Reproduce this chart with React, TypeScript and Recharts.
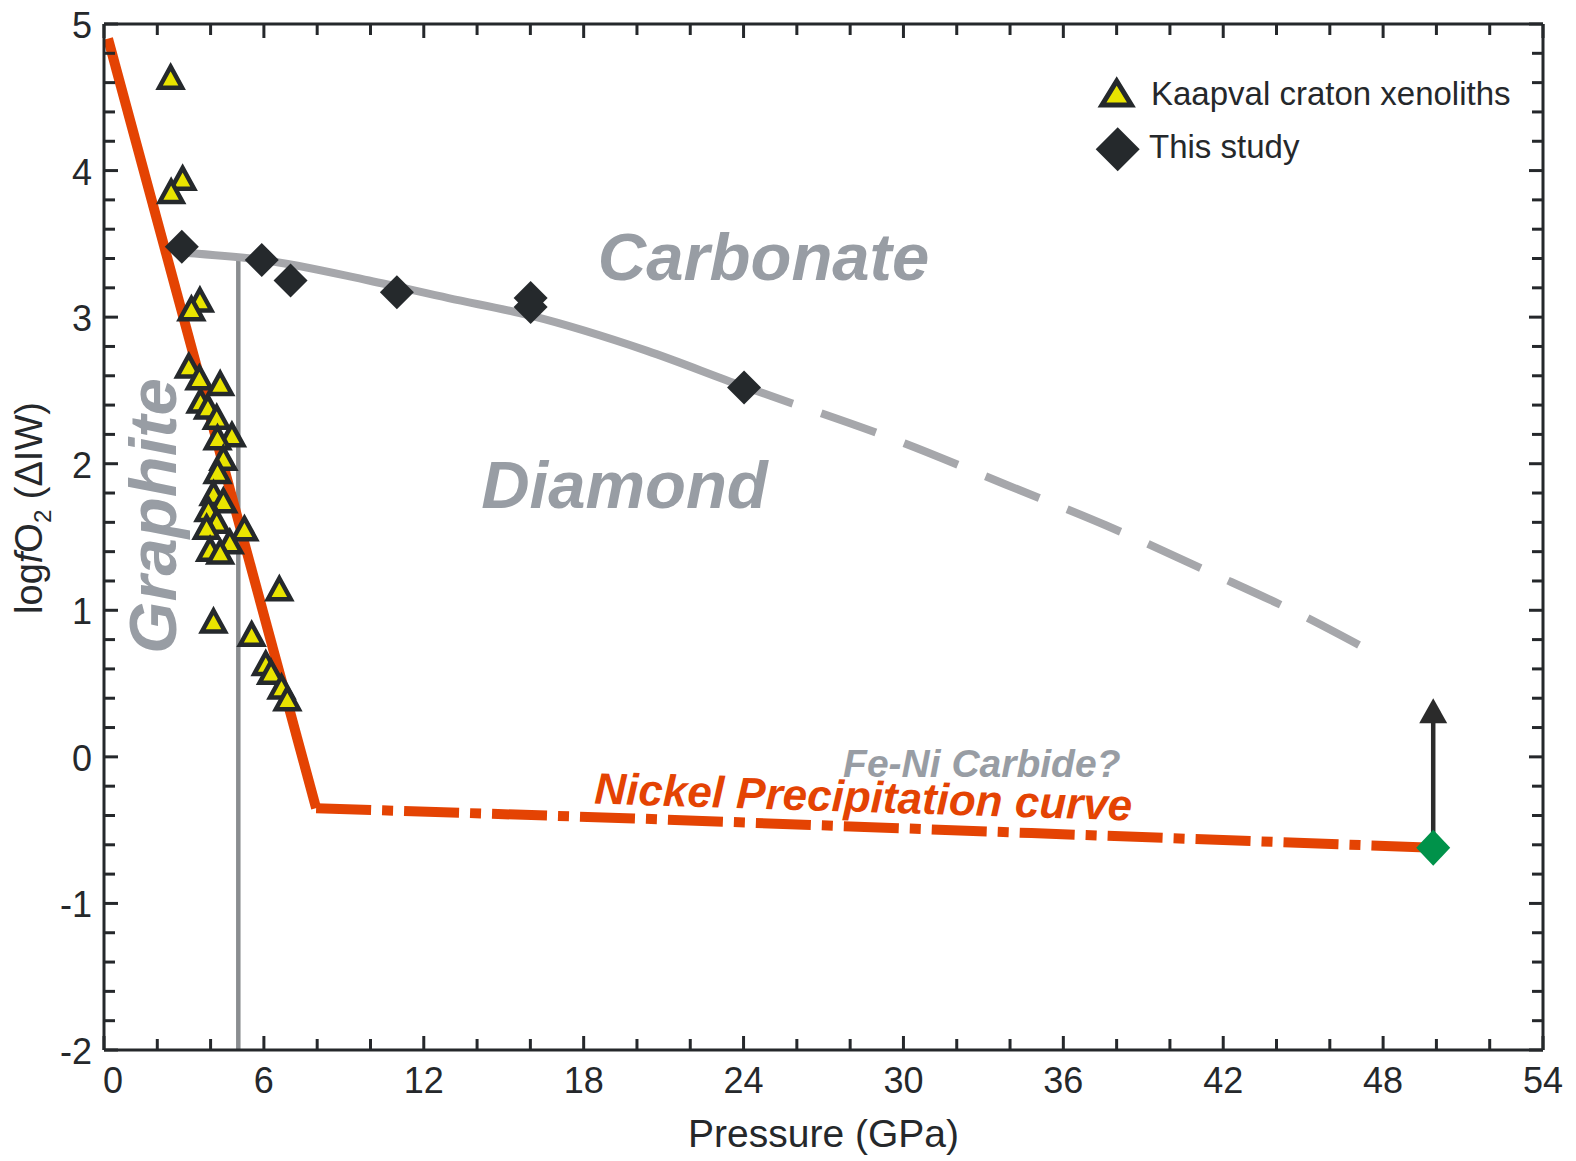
import React from 'react';
import { ComposedChart, XAxis, YAxis, Line, Scatter, ReferenceDot, Legend } from 'recharts';

const FONT = '"Liberation Sans", Arial, Helvetica, sans-serif';
const AXIS_COLOR = '#25282b';
const RED = '#e44303';
const GRAY_CURVE = '#a6a7ab';
const GRAY_VERT = '#8a8d90';
const GRAY_TEXT = '#989da4';
const YELLOW = '#e9e400';
const DARK = '#25292c';
const GREEN = '#00924a';

// Axis ticks
const xTicks = [0, 2, 4, 6, 8, 10, 12, 14, 16, 18, 20, 22, 24, 26, 28, 30, 32, 34, 36, 38, 40, 42, 44, 46, 48, 50, 52, 54];
const xTickLabels = [0, 6, 12, 18, 24, 30, 36, 42, 48, 54];
const yTicks = [
  -2, -1.8, -1.6, -1.4, -1.2, -1, -0.8, -0.6, -0.4, -0.2, 0, 0.2, 0.4, 0.6, 0.8, 1, 1.2, 1.4, 1.6, 1.8,
  2, 2.2, 2.4, 2.6, 2.8, 3, 3.2, 3.4, 3.6, 3.8, 4, 4.2, 4.4, 4.6, 4.8, 5,
];
const yTickLabels = [-2, -1, 0, 1, 2, 3, 4, 5];

// Kaapval craton xenoliths (pressure GPa, logfO2 ΔIW)
const kaapvalXenoliths = [
  { x: 2.5, y: 4.62 },
  { x: 2.95, y: 3.93 },
  { x: 2.52, y: 3.84 },
  { x: 3.6, y: 3.1 },
  { x: 3.28, y: 3.04 },
  { x: 3.18, y: 2.65 },
  { x: 3.58, y: 2.57 },
  { x: 4.36, y: 2.53 },
  { x: 3.62, y: 2.41 },
  { x: 3.9, y: 2.37 },
  { x: 4.23, y: 2.3 },
  { x: 4.8, y: 2.18 },
  { x: 4.26, y: 2.16 },
  { x: 4.48, y: 2.02 },
  { x: 4.26, y: 1.93 },
  { x: 4.11, y: 1.78 },
  { x: 4.48, y: 1.73 },
  { x: 3.92, y: 1.67 },
  { x: 4.23, y: 1.59 },
  { x: 3.85, y: 1.55 },
  { x: 5.27, y: 1.54 },
  { x: 4.72, y: 1.45 },
  { x: 3.98, y: 1.4 },
  { x: 4.36, y: 1.38 },
  { x: 6.58, y: 1.13 },
  { x: 4.11, y: 0.91 },
  { x: 5.54, y: 0.82 },
  { x: 6.07, y: 0.62 },
  { x: 6.27, y: 0.56 },
  { x: 6.66, y: 0.46 },
  { x: 6.88, y: 0.38 },
];

// This study
const thisStudy = [
  { x: 2.92, y: 3.48 },
  { x: 5.92, y: 3.39 },
  { x: 7.0, y: 3.25 },
  { x: 10.99, y: 3.17 },
  { x: 16.01, y: 3.13 },
  { x: 16.01, y: 3.07 },
  { x: 24.02, y: 2.52 },
];

// Carbonate / Diamond boundary
const carbonateSolid = [
  { x: 2.98, y: 3.44 },
  { x: 5.97, y: 3.39 },
  { x: 9.94, y: 3.25 },
  { x: 12.93, y: 3.13 },
  { x: 16.01, y: 3.01 },
  { x: 20.38, y: 2.77 },
  { x: 23.96, y: 2.53 },
  { x: 25.85, y: 2.41 },
];
const carbonateDashed = [
  { x: 25.85, y: 2.41 },
  { x: 30.03, y: 2.14 },
  { x: 33.81, y: 1.86 },
  { x: 37.59, y: 1.58 },
  { x: 41.37, y: 1.27 },
  { x: 45.14, y: 0.95 },
  { x: 47.13, y: 0.76 },
];

// Graphite / Diamond boundary
const graphiteBoundary = [
  { x: 5.04, y: 3.39 },
  { x: 5.04, y: -2 },
];

// Nickel precipitation curve
const nickelSolid = [
  { x: 0.15, y: 4.9 },
  { x: 7.96, y: -0.35 },
];
const nickelDashed = [
  { x: 7.96, y: -0.35 },
  { x: 19.89, y: -0.42 },
  { x: 34.8, y: -0.52 },
  { x: 49.88, y: -0.62 },
];

// Fe-Ni carbide point with upward arrow
const feNiPoint = [{ x: 49.88, y: -0.62 }];
const arrowShaft = [
  { x: 49.88, y: -0.62 },
  { x: 49.88, y: 0.24 },
];
const arrowHead = [{ x: 49.88, y: 0.23 }];

const BottomTick = (props: any) => {
  const { x, y, payload } = props;
  const v = payload.value;
  const major = xTickLabels.includes(v);
  return (
    <g>
      <line x1={x} x2={x} y1={y} y2={y - (major ? 14 : 11)} stroke={AXIS_COLOR} strokeWidth={3} />
      {major && (
        <text x={x + (v === 0 ? 9 : 0)} y={y + 43} textAnchor="middle" fontSize={36} fontFamily={FONT} fill={AXIS_COLOR}>
          {v}
        </text>
      )}
    </g>
  );
};

const TopTick = (props: any) => {
  const { x, y, payload } = props;
  const major = xTickLabels.includes(payload.value);
  return <line x1={x} x2={x} y1={y} y2={y + (major ? 14 : 11)} stroke={AXIS_COLOR} strokeWidth={3} />;
};

const LeftTick = (props: any) => {
  const { x, y, payload } = props;
  const v = payload.value;
  const major = yTickLabels.includes(v);
  return (
    <g>
      <line x1={x} x2={x + (major ? 14 : 11)} y1={y} y2={y} stroke={AXIS_COLOR} strokeWidth={3} />
      {major && (
        <text x={x - 12} y={y + 14} textAnchor="end" fontSize={36} fontFamily={FONT} fill={AXIS_COLOR}>
          {v}
        </text>
      )}
    </g>
  );
};

const RightTick = (props: any) => {
  const { x, y, payload } = props;
  const major = yTickLabels.includes(payload.value);
  return <line x1={x} x2={x - (major ? 14 : 11)} y1={y} y2={y} stroke={AXIS_COLOR} strokeWidth={3} />;
};

const Triangle = (props: any) => {
  const { cx, cy } = props;
  return (
    <path
      d={`M${cx},${cy - 13} L${cx + 11.5},${cy + 8} L${cx - 11.5},${cy + 8} Z`}
      fill={YELLOW}
      stroke={DARK}
      strokeWidth={4.5}
      strokeLinejoin="miter"
    />
  );
};

const Diamond = (props: any) => {
  const { cx, cy } = props;
  return <path d={`M${cx},${cy - 17} L${cx + 17},${cy} L${cx},${cy + 17} L${cx - 17},${cy} Z`} fill={DARK} />;
};

const GreenDiamond = (props: any) => {
  const { cx, cy } = props;
  return <path d={`M${cx},${cy - 18} L${cx + 17},${cy} L${cx},${cy + 18} L${cx - 17},${cy} Z`} fill={GREEN} />;
};

const ArrowHead = (props: any) => {
  const { cx, cy } = props;
  return <path d={`M${cx},${cy - 25} L${cx + 14},${cy} L${cx - 14},${cy} Z`} fill="#2b2b2b" />;
};

const XLabel = (props: any) => {
  const vb = props.viewBox || { x: 104, y: 1050, width: 1439, height: 111 };
  const cx = vb.x + vb.width / 2;
  return (
    <text x={cx} y={vb.y + 97} textAnchor="middle" fontSize={39} fontFamily={FONT} fill={AXIS_COLOR}>
      Pressure (GPa)
    </text>
  );
};

const YLabel = (props: any) => {
  const vb = props.viewBox || { x: 0, y: 24, width: 104, height: 1026 };
  const cx = vb.x + 42;
  const cy = vb.y + vb.height / 2 - 29;
  return (
    <text x={cx} y={cy} transform={`rotate(-90, ${cx}, ${cy})`} textAnchor="middle" fontSize={38} fontFamily={FONT} fill={AXIS_COLOR}>
      log<tspan fontStyle="italic">f</tspan>O<tspan fontSize={24} dy={9}>2</tspan>
      <tspan dy={-9}> (ΔIW)</tspan>
    </text>
  );
};

const LegendContent = () => (
  <svg width={470} height={120} style={{ display: 'block', overflow: 'visible' }}>
    <path d="M28.7,21 L43.4,45 L14,45 Z" fill={YELLOW} stroke={DARK} strokeWidth={5} strokeLinejoin="miter" />
    <text x={63} y={44.5} fontSize={33} fontFamily={FONT} fill={AXIS_COLOR}>
      Kaapval craton xenoliths
    </text>
    <path d="M29.7,67.2 L51.7,89.2 L29.7,111.2 L7.7,89.2 Z" fill={DARK} />
    <text x={61} y={97.8} fontSize={33} fontFamily={FONT} fill={AXIS_COLOR}>
      This study
    </text>
  </svg>
);

const textShape = (label: string, opts: any) => (p: any) => {
  const { cx, cy } = p;
  return (
    <text
      x={cx}
      y={cy}
      textAnchor="middle"
      fontSize={opts.size}
      fontWeight="bold"
      fontStyle="italic"
      fontFamily={FONT}
      fill={opts.color}
      transform={opts.rotate ? `rotate(${opts.rotate}, ${cx}, ${cy})` : undefined}
    >
      {label}
    </text>
  );
};

export default function App() {
  return (
    <div style={{ position: 'absolute', left: 0, top: 0, width: 1576, height: 1161, background: '#fff' }}>
      <ComposedChart width={1576} height={1161} margin={{ top: 23, right: 32, bottom: 0, left: 0 }}>
        <XAxis
          xAxisId="b"
          type="number"
          dataKey="x"
          domain={[0, 54]}
          ticks={xTicks}
          interval={0}
          allowDataOverflow
          height={111}
          tickSize={0}
          tickMargin={0}
          tickLine={false}
          tick={<BottomTick />}
          axisLine={{ stroke: AXIS_COLOR, strokeWidth: 3 }}
          label={{ content: <XLabel /> }}
        />
        <XAxis
          xAxisId="t"
          orientation="top"
          type="number"
          dataKey="x"
          domain={[0, 54]}
          ticks={xTicks}
          interval={0}
          allowDataOverflow
          height={1}
          tickSize={0}
          tickMargin={0}
          tickLine={false}
          tick={<TopTick />}
          axisLine={{ stroke: AXIS_COLOR, strokeWidth: 3 }}
        />
        <YAxis
          yAxisId="l"
          type="number"
          dataKey="y"
          domain={[-2, 5]}
          ticks={yTicks}
          interval={0}
          allowDataOverflow
          width={104}
          tickSize={0}
          tickMargin={0}
          tickLine={false}
          tick={<LeftTick />}
          axisLine={{ stroke: AXIS_COLOR, strokeWidth: 3 }}
          label={{ content: <YLabel /> }}
        />
        <YAxis
          yAxisId="r"
          orientation="right"
          type="number"
          dataKey="y"
          domain={[-2, 5]}
          ticks={yTicks}
          interval={0}
          allowDataOverflow
          width={1}
          tickSize={0}
          tickMargin={0}
          tickLine={false}
          tick={<RightTick />}
          axisLine={{ stroke: AXIS_COLOR, strokeWidth: 3 }}
        />

        {/* The graphite boundary uses the mirrored top/right axes (same domains, same pixel ranges) */}
        <Line xAxisId="t" yAxisId="r" data={graphiteBoundary} dataKey="y" type="linear" stroke={GRAY_VERT} strokeWidth={4.5} dot={false} activeDot={false} isAnimationActive={false} />
        <Line xAxisId="b" yAxisId="l" data={carbonateSolid} dataKey="y" type="monotone" stroke={GRAY_CURVE} strokeWidth={8} dot={false} activeDot={false} isAnimationActive={false} />
        <Line xAxisId="b" yAxisId="l" data={carbonateDashed} dataKey="y" type="monotone" stroke={GRAY_CURVE} strokeWidth={8} strokeDasharray="58 30" strokeDashoffset={58} dot={false} activeDot={false} isAnimationActive={false} />
        <Line xAxisId="b" yAxisId="l" data={nickelSolid} dataKey="y" type="linear" stroke={RED} strokeWidth={10} dot={false} activeDot={false} isAnimationActive={false} />
        <Line xAxisId="b" yAxisId="l" data={nickelDashed} dataKey="y" type="linear" stroke={RED} strokeWidth={10} strokeDasharray="55 11 11 11" dot={false} activeDot={false} isAnimationActive={false} />
        <Line xAxisId="b" yAxisId="l" data={arrowShaft} dataKey="y" type="linear" stroke="#2b2b2b" strokeWidth={4.5} dot={false} activeDot={false} isAnimationActive={false} />

        <Scatter xAxisId="b" yAxisId="l" name="Kaapval craton xenoliths" data={kaapvalXenoliths} dataKey="y" shape={<Triangle />} isAnimationActive={false} />
        <Scatter xAxisId="b" yAxisId="l" name="This study" data={thisStudy} dataKey="y" shape={<Diamond />} isAnimationActive={false} />
        <Scatter xAxisId="b" yAxisId="l" data={arrowHead} dataKey="y" shape={<ArrowHead />} isAnimationActive={false} legendType="none" />
        <Scatter xAxisId="b" yAxisId="l" data={feNiPoint} dataKey="y" shape={<GreenDiamond />} isAnimationActive={false} legendType="none" />

        <ReferenceDot xAxisId="b" yAxisId="l" x={24.75} y={3.254} r={0} ifOverflow="visible" shape={textShape('Carbonate', { size: 67, color: GRAY_TEXT })} />
        <ReferenceDot xAxisId="b" yAxisId="l" x={19.53} y={1.701} r={0} ifOverflow="visible" shape={textShape('Diamond', { size: 67, color: GRAY_TEXT })} />
        <ReferenceDot xAxisId="b" yAxisId="l" x={2.72} y={1.644} r={0} ifOverflow="visible" shape={textShape('Graphite', { size: 67, color: GRAY_TEXT, rotate: -90 })} />
        <ReferenceDot xAxisId="b" yAxisId="l" x={32.94} y={-0.14} r={0} ifOverflow="visible" shape={textShape('Fe-Ni Carbide?', { size: 39, color: GRAY_TEXT })} />
        <ReferenceDot xAxisId="b" yAxisId="l" x={28.48} y={-0.376} r={0} ifOverflow="visible" shape={textShape('Nickel Precipitation curve', { size: 44, color: RED, rotate: 1.8 })} />

        <Legend
          layout="vertical"
          align="center"
          verticalAlign="middle"
          content={() => <LegendContent />}
          wrapperStyle={{ position: 'absolute', left: 1088, top: 60, width: 470, height: 120 }}
        />
      </ComposedChart>
    </div>
  );
}
